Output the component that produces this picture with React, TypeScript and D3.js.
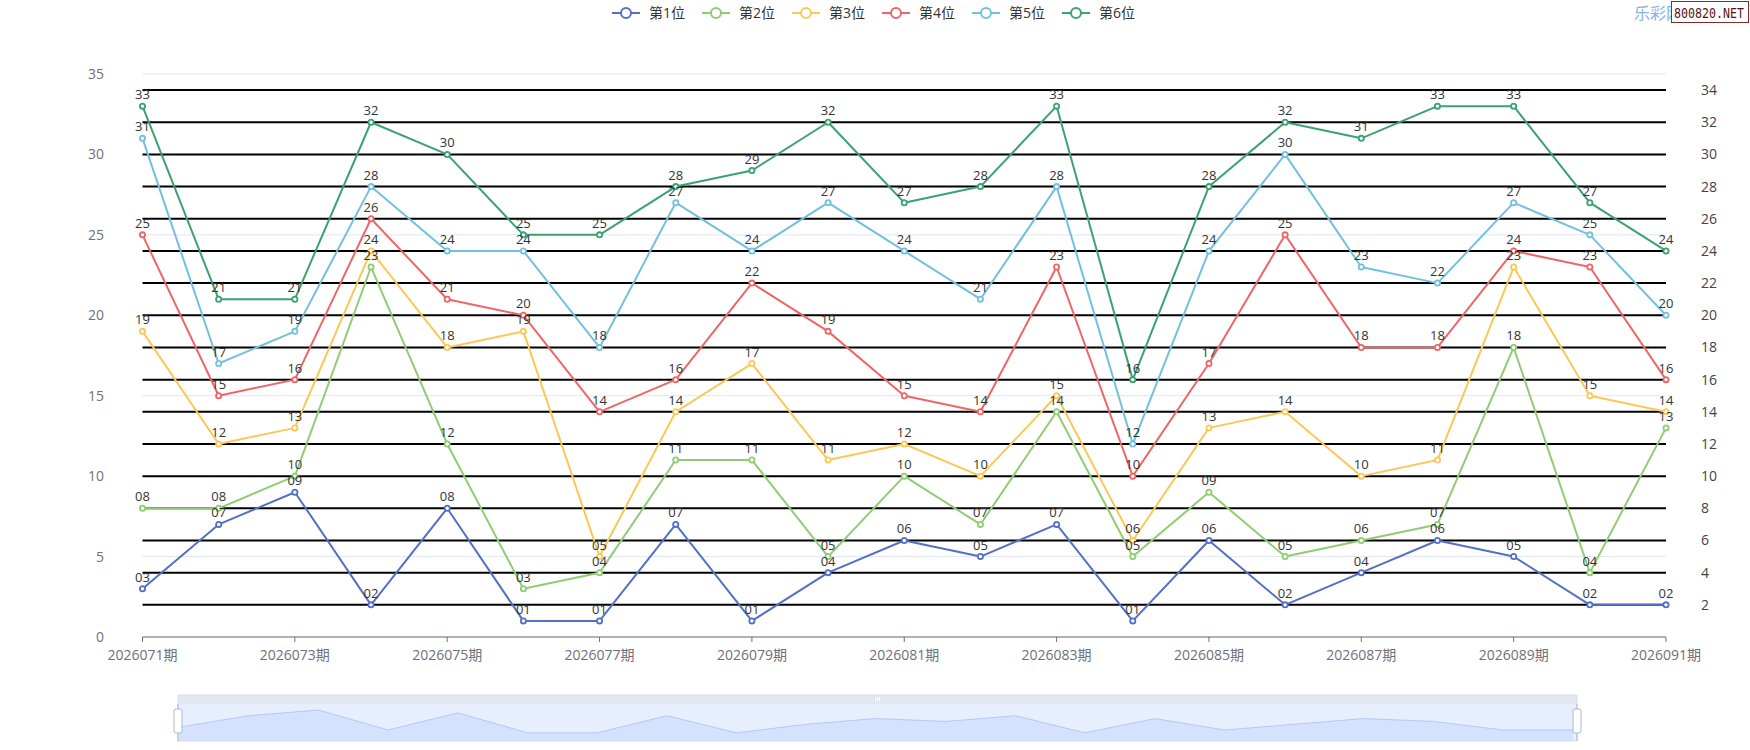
import * as d3 from "d3";

const W = 1750;
const H = 750;

const categories = [
  "2026071期", "2026072期", "2026073期", "2026074期", "2026075期", "2026076期", "2026077期",
  "2026078期", "2026079期", "2026080期", "2026081期", "2026082期", "2026083期", "2026084期",
  "2026085期", "2026086期", "2026087期", "2026088期", "2026089期", "2026090期", "2026091期",
];

const seriesNames = ["第1位", "第2位", "第3位", "第4位", "第5位", "第6位"];
const colors = ["#5470c6", "#91cc75", "#fac858", "#ee6666", "#73c0de", "#3ba272"];

const pos1 = [3, 7, 9, 2, 8, 1, 1, 7, 1, 4, 6, 5, 7, 1, 6, 2, 4, 6, 5, 2, 2];
const pos2 = [8, 8, 10, 23, 12, 3, 4, 11, 11, 5, 10, 7, 14, 5, 9, 5, 6, 7, 18, 4, 13];
const pos3 = [19, 12, 13, 24, 18, 19, 5, 14, 17, 11, 12, 10, 15, 6, 13, 14, 10, 11, 23, 15, 14];
const pos4 = [25, 15, 16, 26, 21, 20, 14, 16, 22, 19, 15, 14, 23, 10, 17, 25, 18, 18, 24, 23, 16];
const pos5 = [31, 17, 19, 28, 24, 24, 18, 27, 24, 27, 24, 21, 28, 12, 24, 30, 23, 22, 27, 25, 20];
const pos6 = [33, 21, 21, 32, 30, 25, 25, 28, 29, 32, 27, 28, 33, 16, 28, 32, 31, 33, 33, 27, 24];
const allSeries = [pos1, pos2, pos3, pos4, pos5, pos6];

const leftTicks = [0, 5, 10, 15, 20, 25, 30, 35];
const rightTicks = [2, 4, 6, 8, 10, 12, 14, 16, 18, 20, 22, 24, 26, 28, 30, 32, 34];

const FONT = "'Open Sans', 'Noto Sans CJK SC', sans-serif";

// plot area
const left = 142.5;
const right = 1666;
const top = 74;
const bottom = 637;

// slider
const sl = { x0: 178, x1: 1577, top: 695, barH: 9, bottom: 741 };

export default function App() {
  const x = d3.scalePoint<string>().domain(categories).range([left, right]);
  const y = d3.scaleLinear().domain([0, 35]).range([bottom, top]);

  const line = d3
    .line<number>()
    .x((_, i) => x(categories[i])!)
    .y((d) => y(d));

  // data shadow in the slider (first series)
  const sx = d3.scalePoint<string>().domain(categories).range([sl.x0 + 1, sl.x1 - 4]);
  const sy = d3
    .scaleLinear()
    .domain([0, d3.max(pos1)!])
    .range([735.7, 710]);
  const shadowArea = d3
    .area<number>()
    .x((_, i) => sx(categories[i])!)
    .y0(sl.bottom)
    .y1((d) => sy(d));
  const shadowLine = d3
    .line<number>()
    .x((_, i) => sx(categories[i])!)
    .y((d) => sy(d));

  const legendStart = 612;
  const legendPitch = 90;

  return (
    <div style={{ position: "absolute", left: 0, top: 0, background: "#fff" }}>
      <svg width={W} height={H} viewBox={`0 0 ${W} ${H}`} style={{ display: "block" }}>
        <rect width={W} height={H} fill="#fff" />

        {/* left axis grid */}
        {leftTicks.map((t) => (
          <line
            key={"lg" + t}
            x1={left}
            x2={right}
            y1={y(t)}
            y2={y(t)}
            stroke="#E0E6F1"
            strokeWidth={1}
          />
        ))}
        {leftTicks.map((t) => (
          <text
            key={"lt" + t}
            x={104}
            y={y(t) + 5}
            textAnchor="end"
            fontFamily={FONT}
            fontSize={14}
            fill="#6E7079"
          >
            {t}
          </text>
        ))}

        {/* right axis black split lines */}
        {rightTicks.map((t) => (
          <line
            key={"rg" + t}
            x1={left}
            x2={right}
            y1={y(t)}
            y2={y(t)}
            stroke="#000"
            strokeWidth={2}
          />
        ))}
        {rightTicks.map((t) => (
          <text
            key={"rt" + t}
            x={1701}
            y={y(t) + 5}
            textAnchor="start"
            fontFamily={FONT}
            fontSize={14}
            fill="#444"
          >
            {t}
          </text>
        ))}

        {/* x axis */}
        <line x1={left} x2={right} y1={bottom} y2={bottom} stroke="#6E7079" strokeWidth={1} />
        {categories.map((c, i) =>
          i % 2 === 0 ? (
            <g key={"xt" + c}>
              <line x1={x(c)} x2={x(c)} y1={bottom} y2={bottom + 5} stroke="#6E7079" />
              <text
                x={x(c)}
                y={660}
                textAnchor="middle"
                fontFamily={FONT}
                fontSize={14}
                fill="#6E7079"
              >
                {c}
              </text>
            </g>
          ) : null
        )}

        {/* series */}
        {allSeries.map((s, k) => (
          <g key={"s" + k}>
            <path d={line(s)!} fill="none" stroke={colors[k]} strokeWidth={2} strokeLinejoin="round" />
            {s.map((v, i) => (
              <circle
                key={i}
                cx={x(categories[i])}
                cy={y(v)}
                r={2.6}
                fill="#fff"
                stroke={colors[k]}
                strokeWidth={1.8}
              />
            ))}
          </g>
        ))}
        {allSeries.map((s, k) => (
          <g key={"l" + k}>
            {s.map((v, i) => (
              <text
                key={i}
                x={x(categories[i])}
                y={y(v) - 7}
                textAnchor="middle"
                fontFamily={FONT}
                fontSize={13}
                fill="#333"
              >
                {String(v).padStart(2, "0")}
              </text>
            ))}
          </g>
        ))}

        {/* legend */}
        {seriesNames.map((n, i) => {
          const lx = legendStart + i * legendPitch;
          return (
            <g key={"lg" + n}>
              <line x1={lx} x2={lx + 28} y1={13} y2={13} stroke={colors[i]} strokeWidth={2} />
              <circle cx={lx + 14} cy={13} r={5} fill="#fff" stroke={colors[i]} strokeWidth={2} />
              <text x={lx + 37} y={18} fontFamily={FONT} fontSize={14} fill="#333">
                {n}
              </text>
            </g>
          );
        })}

        {/* watermark */}
        <text x={1634} y={19} fontFamily={FONT} fontSize={16} fill="#86b4e3">
          乐彩网
        </text>
        <rect x={1671.5} y={1.5} width={77} height={21} fill="#fff" stroke="#8b2a2a" strokeWidth={1} />
        <text
          x={1674}
          y={18}
          fontFamily="'DejaVu Sans Mono', monospace"
          fontSize={14}
          fill="#5a1515"
          textLength={70}
          lengthAdjust="spacingAndGlyphs"
        >
          800820.NET
        </text>

        {/* data zoom slider */}
        <rect x={sl.x0} y={sl.top} width={sl.x1 - sl.x0} height={sl.barH} fill="#E2E7F0" />
        <g stroke="#fff" strokeWidth={1}>
          {[-2, 0, 2].map((d) => (
            <line
              key={d}
              x1={(sl.x0 + sl.x1) / 2 + d}
              x2={(sl.x0 + sl.x1) / 2 + d}
              y1={sl.top + 2}
              y2={sl.top + 6}
            />
          ))}
        </g>
        <rect
          x={sl.x0}
          y={sl.top + sl.barH}
          width={sl.x1 - sl.x0}
          height={sl.bottom - sl.top - sl.barH}
          fill="rgba(135,175,255,0.2)"
        />
        <path d={shadowArea(pos1)!} fill="rgba(143,176,247,0.2)" />
        <path d={shadowLine(pos1)!} fill="none" stroke="#a9c0f0" strokeWidth={0.8} />
        <rect
          x={sl.x0}
          y={sl.top}
          width={sl.x1 - sl.x0}
          height={sl.bottom - sl.top}
          fill="none"
          stroke="#D2DBEE"
          strokeWidth={1}
        />
        {[sl.x0, sl.x1].map((hx) => (
          <g key={"h" + hx}>
            <line x1={hx} x2={hx} y1={sl.top + sl.barH} y2={sl.bottom} stroke="#ACB8D1" strokeWidth={1} />
            <rect
              x={hx - 4}
              y={709}
              width={8}
              height={24}
              rx={2}
              fill="#fff"
              stroke="#ACB8D1"
              strokeWidth={1}
            />
          </g>
        ))}
      </svg>
    </div>
  );
}
